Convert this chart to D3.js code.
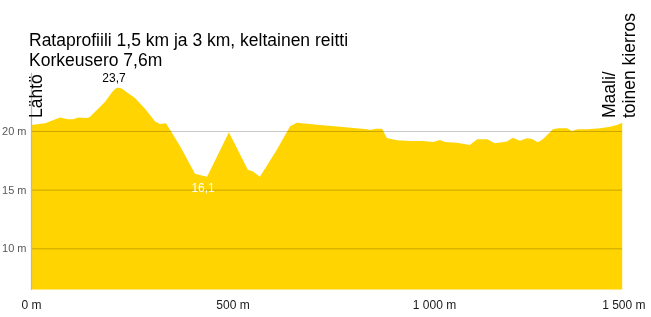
<!DOCTYPE html>
<html>
<head>
<meta charset="utf-8">
<script src="https://d3js.org/d3.v7.min.js"></script>
<style>
  body { margin: 0; background: #fff; }
  text { font-family: "Liberation Sans", Arial, sans-serif; }
</style>
</head>
<body>
<div id="my_dataviz"></div>

<script>

// track profile: distance from start (m) and elevation (m)
var distance = [0, 35, 72, 92, 104, 117, 139, 146, 184, 201, 209, 216, 226, 236, 258, 283, 308, 320, 335,
  370, 407, 419, 437, 491, 538, 551, 568, 610, 643, 660, 717, 767, 834, 841, 856, 871, 883,
  908, 940, 973, 998, 1015, 1027, 1057, 1089, 1107, 1132, 1151, 1181, 1196, 1213, 1231, 1243,
  1258, 1270, 1295, 1308, 1330, 1342, 1357, 1380, 1412, 1437, 1454, 1467];
var elevation = [20.5, 20.65, 21.15, 21.0, 21.0, 21.15, 21.1, 21.2, 22.5, 23.3, 23.6, 23.7, 23.6, 23.35, 22.8, 21.9, 20.8, 20.6, 20.65,
  18.7, 16.35, 16.25, 16.1, 19.9, 16.7, 16.55, 16.1, 18.4, 20.4, 20.7, 20.5, 20.37, 20.15, 20.08, 20.2, 20.2, 19.4,
  19.2, 19.15, 19.15, 19.05, 19.23, 19.05, 19.0, 18.8, 19.3, 19.3, 18.95, 19.1, 19.43, 19.17, 19.38, 19.32,
  19.04, 19.3, 20.14, 20.23, 20.23, 20.0, 20.14, 20.14, 20.23, 20.37, 20.5, 20.7];

var xTicks = [0, 500, 1000, 1500];
var yTicks = [10, 15, 20];

var titleLines = ["Rataprofiili 1,5 km ja 3 km, keltainen reitti", "Korkeusero 7,6m"];
var startLabel = ["Lähtö"];
var finishLabel = ["Maali/", "toinen kierros"];

// finnish number format (space as thousands, comma as decimal)
var fi = d3.formatLocale({decimal: ",", thousands: " ", grouping: [3], currency: ["", " €"]});

var W = 651, H = 317;
var plotLeft = 31, plotBottom = 289.4, plotTop = 72.3;

var svg = d3.select("#my_dataviz")
  .append("svg")
    .attr("width", W)
    .attr("height", H);

var x = d3.scaleLinear()
  .domain([0, 1500])
  .range([plotLeft, 635.5]);

var y = d3.scaleLinear()
  .domain([6.5, 25])
  .range([plotBottom, plotTop]);

var data = distance.map(function(d, i) { return {dist: d, elev: elevation[i]}; });

// the profile area
var area = d3.area()
  .x(function(d) { return x(d.dist); })
  .y0(y(6.5))
  .y1(function(d) { return y(d.elev); });

svg.append("path")
  .datum(data)
  .attr("fill", "#FFD400")
  .attr("d", area);

// horizontal gridlines, on top of the area
var plotRight = x(distance[distance.length - 1]);
svg.append("g")
  .attr("transform", "translate(" + plotLeft + ",0)")
  .call(d3.axisLeft(y).tickValues(yTicks).tickSize(-(plotRight - plotLeft)).tickFormat(""))
  .call(function(g) { g.select(".domain").remove(); })
  .selectAll("line")
    .attr("stroke", "#c8c8c8")
    .style("mix-blend-mode", "multiply");

// Y axis
var yAxis = svg.append("g")
  .attr("transform", "translate(" + plotLeft + ",0)")
  .call(d3.axisLeft(y).tickValues(yTicks).tickSize(0).tickSizeOuter(0).tickPadding(4.5)
    .tickFormat(function(d) { return d + " m"; }));
yAxis.select(".domain").attr("stroke", "#b8b8b8").attr("stroke-width", 1.3);
yAxis.selectAll("text")
  .attr("fill", "#595959")
  .style("font-size", "11px")
  .style("font-family", "'Liberation Sans', Arial, sans-serif");

// X axis (labels only)
var xAxis = svg.append("g")
  .attr("transform", "translate(0," + plotBottom + ")")
  .call(d3.axisBottom(x).tickValues(xTicks).tickSize(0)
    .tickFormat(function(d) { return fi.format(",")(d) + " m"; }));
xAxis.select(".domain").remove();
xAxis.selectAll("text")
  .attr("y", 20)
  .attr("dy", 0)
  .attr("fill", "#1a1a1a")
  .style("font-size", "12px")
  .style("font-family", "'Liberation Sans', Arial, sans-serif");
// last label is pushed inside the window
xAxis.selectAll(".tick").filter(function(d) { return d === 1500; }).select("text")
  .attr("text-anchor", "end")
  .attr("x", (W - 6) - x(1500));

// max / min labels
var iMax = d3.maxIndex(elevation), iMin = d3.minIndex(elevation);
svg.append("text")
  .attr("x", x(distance[iMax]) - 4)
  .attr("y", y(elevation[iMax]) - 5.5)
  .attr("text-anchor", "middle")
  .style("font-size", "12px")
  .attr("fill", "#000")
  .text(fi.format(".1f")(elevation[iMax]));
svg.append("text")
  .attr("x", x(distance[iMin]) - 4)
  .attr("y", y(elevation[iMin]) + 15)
  .attr("text-anchor", "middle")
  .style("font-size", "12px")
  .attr("fill", "#fff")
  .text(fi.format(".1f")(elevation[iMin]));

// title
svg.append("g").selectAll("text")
  .data(titleLines)
  .enter().append("text")
    .attr("x", 29)
    .attr("y", function(d, i) { return 45.7 + i * 20; })
    .style("font-size", "17.5px")
    .attr("fill", "#000")
    .text(function(d) { return d; });

// start / finish labels, rotated
svg.append("g").selectAll("text")
  .data(startLabel)
  .enter().append("text")
    .attr("transform", "translate(41.5,118) rotate(-90)")
    .style("font-size", "17.5px")
    .attr("fill", "#000")
    .text(function(d) { return d; });

svg.append("g").selectAll("text")
  .data(finishLabel)
  .enter().append("text")
    .attr("transform", function(d, i) { return "translate(" + (615 + i * 20) + ",118) rotate(-90)"; })
    .style("font-size", "17.5px")
    .attr("fill", "#000")
    .text(function(d) { return d; });

</script>
</body>
</html>
